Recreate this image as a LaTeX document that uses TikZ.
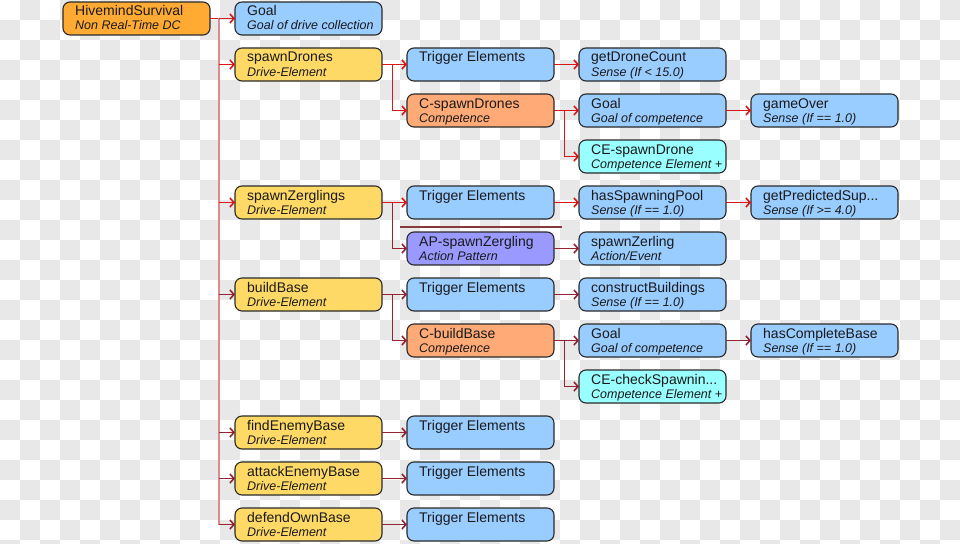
\documentclass[tikz,border=0pt]{standalone}
\usepackage{fontspec}
\setmainfont{Liberation Sans}
\usetikzlibrary{arrows.meta}
\definecolor{checkgray}{HTML}{E8E8E8}
\definecolor{hiveor}{HTML}{FFAA33}
\definecolor{drivey}{HTML}{FFD966}
\definecolor{senseb}{HTML}{99CCFF}
\definecolor{compo}{HTML}{FFAA77}
\definecolor{cec}{HTML}{99FFFF}
\definecolor{app}{HTML}{9999FF}
\definecolor{bord}{HTML}{2A2A2A}
\definecolor{txt}{HTML}{1A1A1A}
\definecolor{redc}{HTML}{D81818}
\definecolor{maroonc}{HTML}{922434}
\definecolor{trunkc}{HTML}{DA8C8C}
\definecolor{barc}{HTML}{883838}
\tikzset{
  box/.style={draw=bord, line width=1.1pt, rounded corners=7pt, anchor=north west,
    minimum width=147pt, minimum height=33pt, inner sep=0pt, outer sep=0pt},
  ttl/.style={anchor=base west, inner sep=0pt, text=txt, font=\fontsize{14}{16}\selectfont},
  sub/.style={anchor=base west, inner sep=0pt, text=txt, font=\fontsize{12.5}{14}\selectfont\itshape},
  redarr/.style={draw=redc, line width=1pt, -{Straight Barb[length=4pt,width=9pt,line width=1.6pt]}},
  mararr/.style={draw=maroonc, line width=1pt, -{Straight Barb[length=4pt,width=9pt,line width=1.6pt]}},
  redline/.style={draw=redc, line width=1pt},
  trunk/.style={draw=trunkc, line width=1.2pt},
}
\newcommand\bx[6]{%
  \node[box, fill=#4] (#1) at (#2,#3) {};
  \node[ttl] (#1-t) at (#2+12,#3+14) {#5};
  \node[sub] (#1-s) at (#2+12,#3+28) {#6};
}
\begin{document}
\begin{tikzpicture}[x=1pt,y=-1pt]
\useasboundingbox (0,0) rectangle (960,543);
\clip (0,0) rectangle (960,543);
\fill[white] (0,0) rectangle (960,543);
\foreach \j in {0,...,27}{
  \pgfmathtruncatemacro\cst{mod(\j+1,2)}
  \pgfmathtruncatemacro\cnx{\cst+2}
  \foreach \i in {\cst,\cnx,...,47}{
    \fill[fill=checkgray] (20*\i,20*\j) rectangle (20*\i+20,20*\j+20);
  }
}
% boxes
\bx{h}{63}{2}{hiveor}{HivemindSurvival}{Non Real-Time DC}
\bx{g0}{235}{2}{senseb}{Goal}{Goal of drive collection}
\bx{sd}{235}{48}{drivey}{spawnDrones}{Drive-Element}
\bx{te1}{407}{48}{senseb}{Trigger Elements}{}
\bx{gdc}{579}{48}{senseb}{getDroneCount}{Sense (If < 15.0)}
\bx{cs}{407}{94}{compo}{C-spawnDrones}{Competence}
\bx{g2}{579}{94}{senseb}{Goal}{Goal of competence}
\bx{go}{751}{94}{senseb}{gameOver}{Sense (If == 1.0)}
\bx{ce1}{579}{140}{cec}{CE-spawnDrone}{Competence Element +}
\bx{sz}{235}{186}{drivey}{spawnZerglings}{Drive-Element}
\bx{te2}{407}{186}{senseb}{Trigger Elements}{}
\bx{hsp}{579}{186}{senseb}{hasSpawningPool}{Sense (If == 1.0)}
\bx{gps}{751}{186}{senseb}{getPredictedSup...}{Sense (If >= 4.0)}
\bx{ap}{407}{232}{app}{AP-spawnZergling}{Action Pattern}
\bx{szl}{579}{232}{senseb}{spawnZerling}{Action/Event}
\bx{bb}{235}{278}{drivey}{buildBase}{Drive-Element}
\bx{te3}{407}{278}{senseb}{Trigger Elements}{}
\bx{cbld}{579}{278}{senseb}{constructBuildings}{Sense (If == 1.0)}
\bx{cb}{407}{324}{compo}{C-buildBase}{Competence}
\bx{g3}{579}{324}{senseb}{Goal}{Goal of competence}
\bx{hcb}{751}{324}{senseb}{hasCompleteBase}{Sense (If == 1.0)}
\bx{ce2}{579}{370}{cec}{CE-checkSpawnin...}{Competence Element +}
\bx{feb}{235}{416}{drivey}{findEnemyBase}{Drive-Element}
\bx{te4}{407}{416}{senseb}{Trigger Elements}{}
\bx{aeb}{235}{462}{drivey}{attackEnemyBase}{Drive-Element}
\bx{te5}{407}{462}{senseb}{Trigger Elements}{}
\bx{dob}{235}{508}{drivey}{defendOwnBase}{Drive-Element}
\bx{te6}{407}{508}{senseb}{Trigger Elements}{}
% separator bar above the action pattern
\coordinate (barL) at ([xshift=-7pt,yshift=5pt]ap.north west);
\coordinate (barR) at ([xshift=8pt,yshift=5pt]ap.north east);
\draw[draw=barc, line width=2.2pt] (barL) -- (barR);
% trunk from the root
\coordinate (hT) at ([xshift=9pt]h.east);
\draw[redline] (h.east) -- (hT);
\draw[trunk] (hT) -- (hT |- dob.west);
\draw[redarr] (hT |- g0.west) -- (g0.west);
\draw[redarr] (hT |- sd.west) -- (sd.west);
\draw[redarr] (hT |- sz.west) -- (sz.west);
\draw[mararr] (hT |- bb.west) -- (bb.west);
\draw[mararr] (hT |- feb.west) -- (feb.west);
\draw[mararr] (hT |- aeb.west) -- (aeb.west);
\draw[mararr] (hT |- dob.west) -- (dob.west);
% spawnDrones
\coordinate (sdB) at ([xshift=10pt]sd.east);
\draw[redarr] (sd.east) -- (te1.west);
\draw[redarr] (sdB) |- (cs.west);
\draw[redarr] (te1.east) -- (gdc.west);
\coordinate (csB) at ([xshift=10pt]cs.east);
\draw[redarr] (cs.east) -- (g2.west);
\draw[redarr] (csB) |- (ce1.west);
\draw[redarr] (g2.east) -- (go.west);
% spawnZerglings
\coordinate (szB) at ([xshift=10pt]sz.east);
\draw[redarr] (sz.east) -- (te2.west);
\draw[mararr] (szB) |- (ap.west);
\draw[redarr] (te2.east) -- (hsp.west);
\draw[redarr] (hsp.east) -- (gps.west);
\draw[mararr] (ap.east) -- (szl.west);
% buildBase
\coordinate (bbB) at ([xshift=10pt]bb.east);
\draw[mararr] (bb.east) -- (te3.west);
\draw[mararr] (bbB) |- (cb.west);
\draw[mararr] (te3.east) -- (cbld.west);
\coordinate (cbB) at ([xshift=10pt]cb.east);
\draw[mararr] (cb.east) -- (g3.west);
\draw[mararr] (cbB) |- (ce2.west);
\draw[mararr] (g3.east) -- (hcb.west);
% remaining drives
\draw[mararr] (feb.east) -- (te4.west);
\draw[mararr] (aeb.east) -- (te5.west);
\draw[mararr] (dob.east) -- (te6.west);
\end{tikzpicture}
\end{document}
